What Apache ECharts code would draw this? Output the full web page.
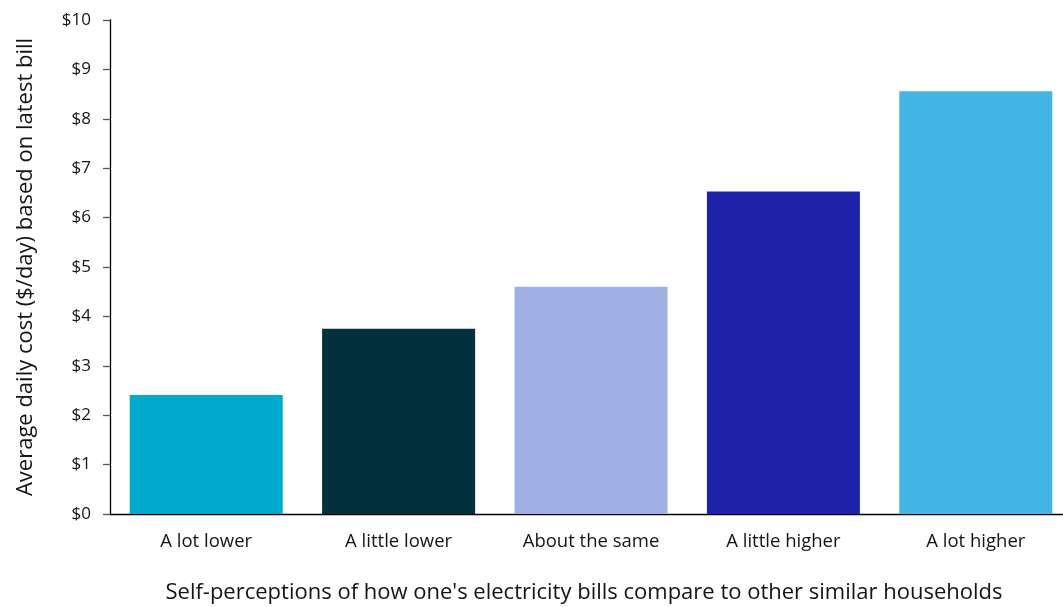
<!DOCTYPE html>
<html>
<head>
<meta charset="utf-8">
<script src="https://cdn.jsdelivr.net/npm/echarts@6/dist/echarts.min.js"></script>
<style>
  html, body { margin: 0; padding: 0; background: #ffffff; }
  #chart { width: 1063px; height: 607px; }
</style>
</head>
<body>
<div id="chart"></div>
<script>
// Perceived bill comparison vs. average daily cost
const categories = ['A lot lower', 'A little lower', 'About the same', 'A little higher', 'A lot higher'];
const dailyCost = [2.41, 3.75, 4.60, 6.53, 8.56];
const yTicks = [0, 1, 2, 3, 4, 5, 6, 7, 8, 9, 10];
const palette = ['#00A9CE', '#02303C', '#A0B0E4', '#1E22AA', '#41B6E6'];

const FONT = '"Open Sans", Lato, sans-serif';
const TEXT = '#141414';

const chart = echarts.init(document.getElementById('chart'), null, { renderer: 'canvas' });

chart.setOption({
  animation: false,
  backgroundColor: '#ffffff',
  textStyle: { fontFamily: FONT },
  grid: { left: 110, top: 20, width: 962, bottom: 93, containLabel: false, outerBoundsMode: 'none' },
  xAxis: {
    type: 'category',
    data: categories,
    name: "Self-perceptions of how one's electricity bills compare to other similar households",
    nameLocation: 'middle',
    nameGap: 68,
    nameTextStyle: { fontFamily: FONT, fontSize: 22, color: TEXT, padding: [0, 14, 0, 0] },
    axisLine: { show: true, lineStyle: { color: '#000000', width: 1.3 } },
    axisTick: { show: false },
    axisLabel: { fontFamily: FONT, fontSize: 18.5, color: TEXT, margin: 18 }
  },
  yAxis: {
    type: 'value',
    min: yTicks[0],
    max: yTicks[yTicks.length - 1],
    interval: 1,
    name: 'Average daily cost ($/day) based on latest bill',
    nameLocation: 'middle',
    nameGap: 73,
    nameTextStyle: { fontFamily: FONT, fontSize: 22, color: TEXT },
    axisLine: { show: true, lineStyle: { color: '#000000', width: 1.3 } },
    axisTick: { show: true, inside: false, length: 7, lineStyle: { color: '#555555', width: 1.3 } },
    splitLine: { show: false },
    axisLabel: {
      fontFamily: FONT, fontSize: 17, color: TEXT, margin: 19,
      formatter: v => '$' + v
    }
  },
  series: [{
    type: 'bar',
    data: dailyCost.map((v, i) => ({ value: v, itemStyle: { color: palette[i] } })),
    barWidth: 153
  }]
});
</script>
</body>
</html>
